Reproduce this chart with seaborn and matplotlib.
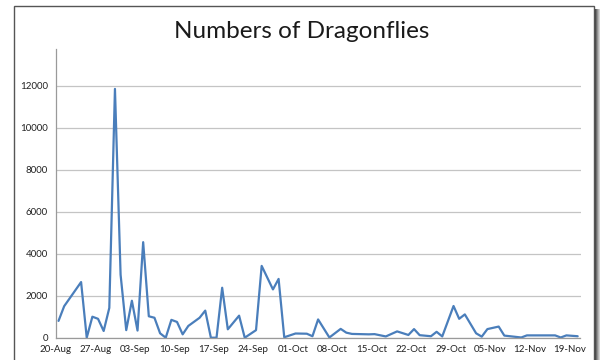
import matplotlib
matplotlib.use("Agg")
import matplotlib.pyplot as plt
from matplotlib.patches import Rectangle
import seaborn as sns
import pandas as pd

dates = ["2012-08-20", "2012-08-21", "2012-08-24", "2012-08-25", "2012-08-26", "2012-08-27",
         "2012-08-28", "2012-08-29", "2012-08-30", "2012-08-31", "2012-09-01", "2012-09-02",
         "2012-09-03", "2012-09-04", "2012-09-05", "2012-09-06", "2012-09-07", "2012-09-08",
         "2012-09-09", "2012-09-10", "2012-09-11", "2012-09-12", "2012-09-14", "2012-09-15",
         "2012-09-16", "2012-09-17", "2012-09-18", "2012-09-19", "2012-09-21", "2012-09-22",
         "2012-09-24", "2012-09-25", "2012-09-27", "2012-09-28", "2012-09-29", "2012-10-01",
         "2012-10-03", "2012-10-04", "2012-10-05", "2012-10-07", "2012-10-09", "2012-10-10",
         "2012-10-11", "2012-10-14", "2012-10-15", "2012-10-17", "2012-10-19", "2012-10-21",
         "2012-10-22", "2012-10-23", "2012-10-25", "2012-10-26", "2012-10-27", "2012-10-29",
         "2012-10-30", "2012-10-31", "2012-11-02", "2012-11-03", "2012-11-04", "2012-11-06",
         "2012-11-07", "2012-11-10", "2012-11-11", "2012-11-16", "2012-11-17", "2012-11-18",
         "2012-11-20"]
counts = [800, 1500, 2650, 0, 1000, 900,
          320, 1420, 11850, 3000, 360, 1760,
          340, 4550, 1020, 950, 210, 0,
          850, 750, 160, 560, 950, 1290,
          0, 0, 2380, 400, 1050, 0,
          360, 3420, 2300, 2800, 20, 200,
          190, 70, 870, 10, 420, 240,
          180, 160, 170, 60, 300, 130,
          410, 120, 70, 280, 60, 1510,
          900, 1110, 210, 50, 410, 530,
          100, 10, 110, 110, 10, 110,
          70]
y_ticks = [0, 2000, 4000, 6000, 8000, 10000, 12000]
title = "Numbers of Dragonflies"

sns.set_style("white")
plt.rcParams["font.family"] = ["Lato", "DejaVu Sans"]

df = pd.DataFrame({"date": pd.to_datetime(dates), "count": counts})
# Excel places points in the middle of each day
df["pos"] = df["date"] + pd.Timedelta(hours=12)

fig = plt.figure(figsize=(6, 3.6), dpi=100)
fig.patch.set_facecolor("white")

# chart frame + gradient shadow on the right
shadow = ["#4a4a4a", "#6e6e6e", "#929292", "#b4b4b4", "#d2d2d2", "#ececec"]
for i, c in enumerate(shadow):
    fig.patches.append(Rectangle(((594.5 + i) / 600, -0.1), 1 / 600, 1 - 9 / 360 + 0.1,
                                 transform=fig.transFigure, facecolor=c,
                                 edgecolor="none", zorder=-3))
fig.patches.append(Rectangle((14 / 600, -0.1), 580 / 600, 1 - 6 / 360 + 0.1,
                             transform=fig.transFigure, facecolor="white",
                             edgecolor="#555555", linewidth=1.0, zorder=-2))

ax = fig.add_axes([55.7 / 600, 1 - 337.7 / 360, (580.5 - 55.7) / 600, (337.7 - 49) / 360])
ax.set_facecolor("none")
sns.lineplot(data=df, x="pos", y="count", ax=ax, color="#4a7ebb", linewidth=1.6)

ax.set_xlim(pd.Timestamp("2012-08-20"), pd.Timestamp("2012-11-21"))
ax.set_ylim(0, 13750)
ax.set_yticks(y_ticks)
ax.set_yticklabels([str(v) for v in y_ticks])
xt = pd.date_range("2012-08-20", "2012-11-19", freq="7D")
ax.set_xticks(xt)
ax.set_xticklabels([d.strftime("%d-%b") for d in xt])

ax.grid(axis="y", color="#c4c4c4", linewidth=0.9)
ax.grid(axis="x", visible=False)
for s in ["top", "right"]:
    ax.spines[s].set_visible(False)
for s in ["left", "bottom"]:
    ax.spines[s].set_color("#9a9a9a")
    ax.spines[s].set_linewidth(0.9)
ax.tick_params(axis="both", which="major", length=3.5, width=0.8, color="#9a9a9a",
               labelsize=7, labelcolor="#222222", direction="out")
ax.tick_params(axis="x", pad=2)
ax.tick_params(axis="y", pad=2)
ax.set_xlabel("")
ax.set_ylabel("")

fig.text(302 / 600, 1 - 32 / 360, title, ha="center", va="center",
         fontsize=17.5, color="#1a1a1a")

fig.savefig("out.png", dpi=100)
